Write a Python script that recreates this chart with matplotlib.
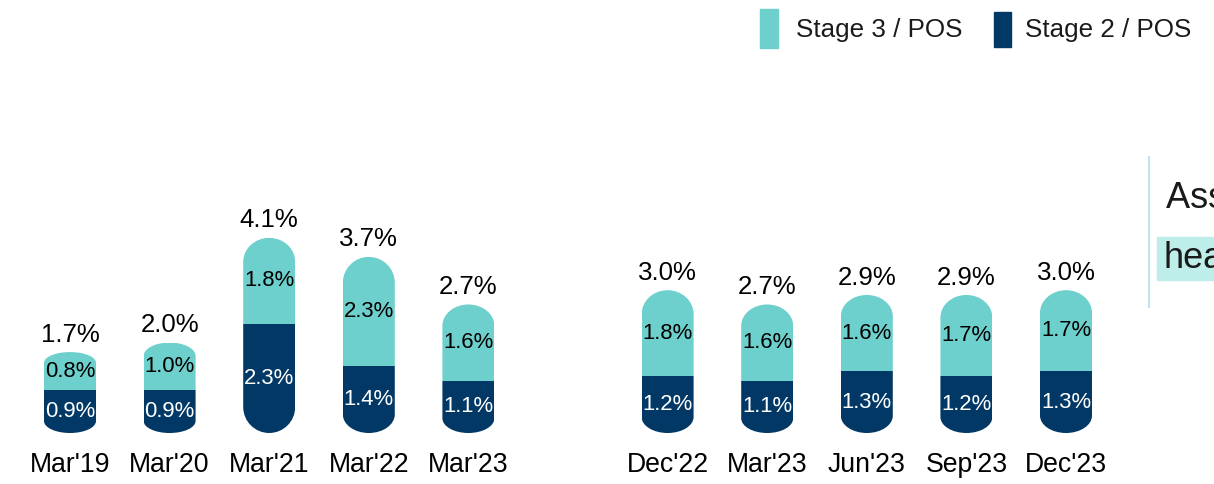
import matplotlib
matplotlib.use("Agg")
import matplotlib.pyplot as plt
from matplotlib.path import Path
from matplotlib.patches import Rectangle

plt.rcParams['font.family'] = ['Liberation Sans', 'DejaVu Sans']

categories = ["Mar'19", "Mar'20", "Mar'21", "Mar'22", "Mar'23",
              "Dec'22", "Mar'23", "Jun'23", "Sep'23", "Dec'23"]
stage2 = [0.9, 0.9, 2.3, 1.4, 1.1, 1.2, 1.1, 1.3, 1.2, 1.3]
stage3 = [0.8, 1.0, 1.8, 2.3, 1.6, 1.8, 1.6, 1.6, 1.7, 1.7]
totals = [1.7, 2.0, 4.1, 3.7, 2.7, 3.0, 2.7, 2.9, 2.9, 3.0]
legend_labels = ["Stage 3 / POS", "Stage 2 / POS"]

TEAL = "#6ed0cc"
NAVY = "#023865"

# annual bars, then a gap, then quarterly bars
positions = list(range(5)) + list(range(6, 11))

W, H = 1214, 484
fig = plt.figure(figsize=(W / 100, H / 100), dpi=100)
ax = fig.add_axes([0, 0, 1, 1])
ax.set_axis_off()

px_x = 99.6   # pixels per slot
px_y = 47.6   # pixels per percentage point
x0_px, base_px = 70, 433
ax.set_xlim(-x0_px / px_x, (W - x0_px) / px_x)
ax.set_ylim(-(H - base_px) / px_y, base_px / px_y)

width = 0.522


def end_path(x, y, w, h, rx, ry, top):
    """Segment outline with one rounded (elliptic) end; the flat end is extended."""
    k = 0.5523
    xl, xr, xc = x, x + w, x + w / 2
    if top:
        y_flat, y_end, s = y - h, y + h, 1
    else:
        y_flat, y_end, s = y + 2 * h, y, -1
    yc = y_end - s * ry
    verts = [(xl, y_flat), (xl, yc),
             (xl, yc + s * k * ry), (xc - k * rx, y_end), (xc, y_end),
             (xc + k * rx, y_end), (xr, yc + s * k * ry), (xr, yc),
             (xr, y_flat), (xl, y_flat)]
    codes = [Path.MOVETO, Path.LINETO,
             Path.CURVE4, Path.CURVE4, Path.CURVE4,
             Path.CURVE4, Path.CURVE4, Path.CURVE4,
             Path.LINETO, Path.CLOSEPOLY]
    return Path(verts, codes)


def round_bar(bar, top):
    x, y, w, h = bar.get_x(), bar.get_y(), bar.get_width(), bar.get_height()
    rx = w / 2
    ry = min(rx * px_x / px_y, 0.28 * h)
    bar.set_clip_path(end_path(x, y, w, h, rx, ry, top), ax.transData)


bars2 = ax.bar(positions, stage2, width, color=NAVY, linewidth=0)
bars3 = ax.bar(positions, stage3, width, bottom=stage2, color=TEAL, linewidth=0)

for b in bars2:
    round_bar(b, top=False)
for b in bars3:
    round_bar(b, top=True)

for xp, s2, s3, tot, cat in zip(positions, stage2, stage3, totals, categories):
    ax.text(xp, s2 / 2, f"{s2:.1f}%", ha="center", va="center",
            fontsize=15.9, color="white")
    ax.text(xp, s2 + s3 / 2, f"{s3:.1f}%", ha="center", va="center",
            fontsize=15.9, color="black")
    ax.annotate(f"{tot:.1f}%", (xp, s2 + s3), xytext=(0, 7.5),
                textcoords="offset points", ha="center", va="baseline",
                fontsize=18.6, color="black")
    ax.annotate(cat, (xp, 0), xytext=(0, -23), textcoords="offset points",
                ha="center", va="center", fontsize=19.2, color="black")

# legend drawn by hand at the top right
for lab, col, (rx0, rx1, ry0, ry1), tx in zip(
        legend_labels, [TEAL, NAVY],
        [(760, 778, 9, 48), (994, 1011, 12, 47)], [796, 1025]):
    fig.patches.append(Rectangle((rx0 / W, 1 - ry1 / H), (rx1 - rx0) / W,
                                 (ry1 - ry0) / H, color=col,
                                 transform=fig.transFigure))
    fig.text(tx / W, 1 - 37 / H, lab, ha="left", va="baseline",
             fontsize=18.7, color="#1a1a1a")

# side panel text, cut off by the figure edge
fig.add_artist(plt.Line2D([1148.5 / W, 1148.5 / W], [1 - 157 / H, 1 - 307 / H],
                          color="#bfe6f0", linewidth=1.5))
fig.patches.append(Rectangle((1157 / W, 1 - 280 / H), 80 / W, 43 / H,
                             color="#bdeeea", transform=fig.transFigure))
fig.text(1166 / W, 1 - 198 / H, "Asset quality", ha="left", va="center",
         fontsize=26, color="#1a1a1a")
fig.text(1163 / W, 1 - 258 / H, "healthy", ha="left", va="center",
         fontsize=26, color="#1a1a1a")

fig.savefig("out.png", dpi=100)
